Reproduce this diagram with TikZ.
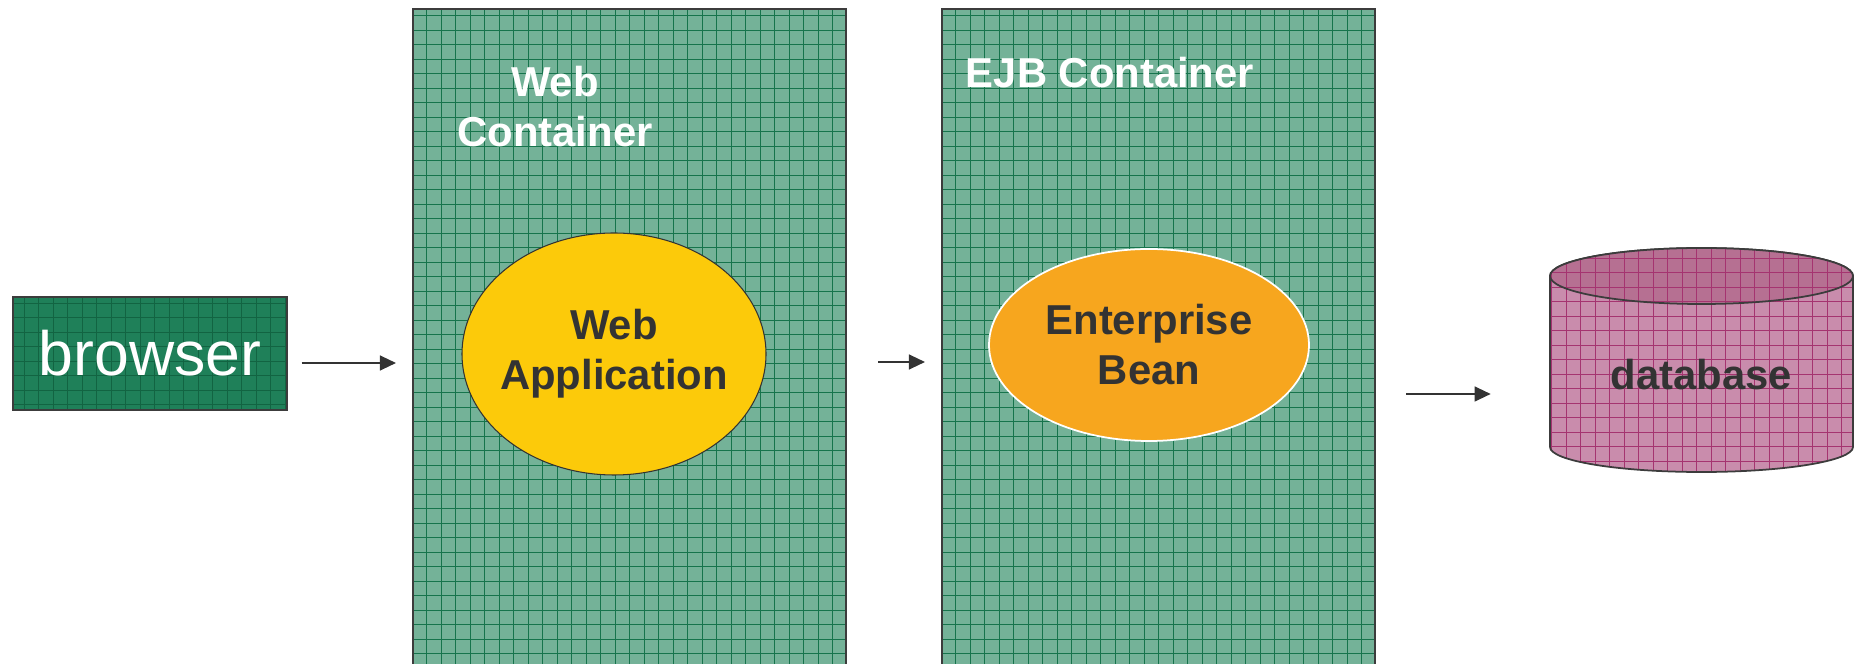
\documentclass[tikz,border=0pt]{standalone}
\usepackage{fontspec}
\setmainfont{Liberation Sans}
\usetikzlibrary{shapes.geometric,arrows.meta}

\definecolor{edge}{RGB}{60,60,60}
\definecolor{ink}{RGB}{51,51,51}
\definecolor{boxgreen}{RGB}{31,128,89}
\definecolor{boxgrid}{RGB}{18,100,66}
\definecolor{contgreen}{RGB}{116,178,152}
\definecolor{contgrid}{RGB}{22,116,76}
\definecolor{appyellow}{RGB}{252,202,10}
\definecolor{beanorange}{RGB}{247,166,30}
\definecolor{dbbody}{RGB}{201,140,172}
\definecolor{dbtop}{RGB}{182,112,146}
\definecolor{dbgrid}{RGB}{165,52,112}

\begin{document}
\begin{tikzpicture}[
      x=1cm, y=1cm,
      every node/.style={font=\fontsize{23.8}{28.5}\selectfont\bfseries},
      gridfill/.style={path picture={
        \draw[#1, line width=0.5pt, step=0.29]
          (path picture bounding box.south west) grid (path picture bounding box.north east);}},
      cont/.style={draw=edge, line width=1.2pt, fill=contgreen, gridfill=contgrid,
                   minimum width=8.66cm, minimum height=13.6cm, inner sep=0pt},
      title/.style={text=white, align=center},
      bean/.style={ellipse, inner sep=0pt, align=center, text=ink},
      flow/.style={-{Triangle[length=0.32cm, width=0.3cm]}, line width=0.7pt, draw=ink}
    ]
    \clip (0,0) rectangle (37.08,13.28);

    % Browser
    \node[draw=edge, line width=0.8pt, fill=boxgreen, gridfill=boxgrid,
          minimum width=5.48cm, minimum height=2.26cm, inner sep=0pt, text=white,
          font=\fontsize{35.6}{40}\selectfont] (browser) at (3.0,6.21) {browser};

    % Containers
    \node[cont] (web) at (12.59,6.3) {};
    \node[cont] (ejb) at (23.17,6.3) {};
    \node[title] (webtitle) at (11.1,11.14) {Web\\Container};
    \node[title] (ejbtitle) at (22.2,11.82) {EJB Container};

    % Components
    \node[bean, draw=ink, line width=0.6pt, fill=appyellow, inner xsep=-0.2cm,
          minimum width=6.08cm, minimum height=4.84cm] (app) at (12.28,6.20) {Web\\Application};
    \node[bean, draw=white, line width=1pt, fill=beanorange,
          minimum width=6.4cm, minimum height=3.84cm] (bean) at (22.98,6.38) {Enterprise\\Bean};

    % Database
    \path[draw=edge, line width=1pt, fill=dbbody, gridfill=dbgrid]
      (31.0,7.76) -- (31.0,4.34)
      arc[start angle=180, end angle=360, x radius=3.03, y radius=0.5]
      -- (37.06,7.76)
      arc[start angle=0, end angle=180, x radius=3.03, y radius=0.56] -- cycle;
    \path[draw=edge, line width=1pt, fill=dbtop, gridfill=dbgrid]
      (34.03,7.76) ellipse [x radius=3.03, y radius=0.56];
    \node[text=ink, minimum width=6.06cm, inner sep=0pt] (db) at (34.03,5.78) {database};

    % Flows
    \draw[flow, shorten <=0.28cm, shorten >=0.32cm]
      ([yshift=-0.19cm]browser.east) -- ([yshift=-0.19cm]web.west |- browser.east);
    \draw[flow, shorten <=0.62cm, shorten >=0.32cm]
      ([yshift=-0.26cm]web.east) -- ([yshift=-0.26cm]ejb.west |- web.east);
    \draw[flow, shorten <=0.6cm, shorten >=1.18cm]
      ([yshift=-0.9cm]ejb.east) -- ([yshift=-0.9cm]db.west |- ejb.east);
  \end{tikzpicture}
\end{document}
